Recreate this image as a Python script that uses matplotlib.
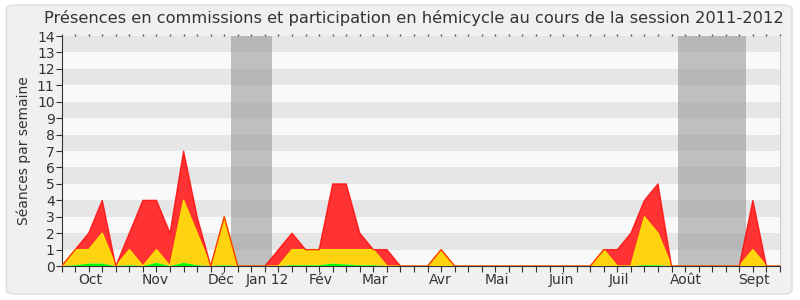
import matplotlib.pyplot as plt
import numpy as np
from matplotlib.patches import FancyBboxPatch

# valeurs hebdomadaires (semaine 0 = début octobre 2011)
weeks = np.arange(0, 54)
green = [0, 0.05, 0.15, 0.15, 0, 0.05, 0, 0.2, 0, 0.2, 0.05, 0, 0.05, 0, 0, 0,
         0, 0.05, 0.05, 0.05, 0.15, 0.1, 0.05, 0.05, 0, 0, 0, 0, 0, 0,
         0, 0, 0, 0, 0, 0, 0, 0, 0, 0, 0, 0, 0, 0.05, 0.05, 0, 0, 0, 0, 0,
         0, 0, 0, 0]
yellow = [0, 1, 1, 2, 0, 1, 0, 1, 0, 4, 2, 0, 3, 0, 0, 0,
          0, 1, 1, 1, 1, 1, 1, 1, 0, 0, 0, 0, 1, 0,
          0, 0, 0, 0, 0, 0, 0, 0, 0, 0, 1, 0, 0, 3, 2, 0, 0, 0, 0, 0,
          0, 1, 0, 0]
total = [0, 1, 2, 4, 0, 2, 4, 4, 2, 7, 3, 0, 3, 0, 0, 0,
         1, 2, 1, 1, 5, 5, 2, 1, 1, 0, 0, 0, 1, 0,
         0, 0, 0, 0, 0, 0, 0, 0, 0, 0, 1, 1, 2, 4, 5, 0, 0, 0, 0, 0,
         0, 4, 0, 0]
vacances = [(12.5, 15.5), (45.5, 50.5)]
month_labels = ['Oct', 'Nov', 'Déc', 'Jan 12', 'Fév', 'Mar', 'Avr', 'Mai', 'Juin', 'Juil', 'Août', 'Sept']
month_pos = [2.1, 6.9, 11.8, 15.2, 19.1, 23.1, 27.9, 32.1, 36.9, 41.1, 46.05, 51.05]

green = np.array(green)
mid = np.maximum(np.array(yellow), green)
total = np.array(total)

fig = plt.figure(figsize=(8, 3), dpi=100, facecolor='white')
bg = FancyBboxPatch((0.008, 0.02), 0.982, 0.963, boxstyle='round,pad=0,rounding_size=0.012',
                    transform=fig.transFigure, facecolor='#F0F0F0', edgecolor='#DDDDDD', lw=1, zorder=-10)
fig.patches.append(bg)
ax = fig.add_axes([0.077, 0.113, 0.898, 0.767])
ax.set_facecolor('#F9F9F9')

# bandes horizontales
for k in range(1, 14, 2):
    ax.axhspan(k, k + 1, color='#E6E6E6', lw=0, zorder=0)
for a, b in vacances:
    ax.axvspan(a, b, color='#999999', alpha=0.6, lw=0, zorder=1)

ax.fill_between(weeks, mid, total, facecolor='#FF3333', edgecolor='none', zorder=2)
ax.fill_between(weeks, green, mid, facecolor='#FFD30F', edgecolor='none', zorder=4)
ax.plot(weeks, mid, color='#FFE000', lw=1, zorder=5)
ax.plot(weeks, total, color='#FF0000', lw=1, alpha=0.75, zorder=6)
ax.fill_between(weeks, 0, green, facecolor='#00FF00', edgecolor='none', zorder=7)

ax.set_xlim(0, 53)
ax.set_ylim(0, 14)
ax.set_yticks(range(0, 15))
ax.set_xticks(range(0, 54))
ax.set_xticklabels([])
ax.set_xticks(month_pos, minor=True)
ax.set_xticklabels(month_labels, minor=True)
ax.tick_params(axis='x', which='minor', length=0, pad=5, labelsize=10, labelcolor='#333333')
ax.tick_params(axis='x', which='major', length=4, color='#333333')
ax.tick_params(axis='y', length=4, color='#333333', labelsize=10, labelcolor='#333333', pad=1)

# petits points au-dessus du cadre
ax2 = ax.secondary_xaxis('top')
ax2.set_xticks(range(0, 54))
ax2.set_xticklabels([])
ax2.tick_params(length=1.5, width=1, color='#555555')
ax2.spines['top'].set_visible(False)

ax.spines['right'].set_color('#CCCCCC')
ax.spines['top'].set_visible(False)
ax.spines['left'].set_color('#333333')
ax.spines['bottom'].set_color('#333333')

ax.set_ylabel('Séances par semaine', fontsize=10, color='#333333', labelpad=4)
fig.text(0.517, 0.94, 'Présences en commissions et participation en hémicycle au cours de la session 2011-2012',
         ha='center', va='center', fontsize=11.7, color='#333333')

plt.savefig('out.png', dpi=100, facecolor=fig.get_facecolor())
